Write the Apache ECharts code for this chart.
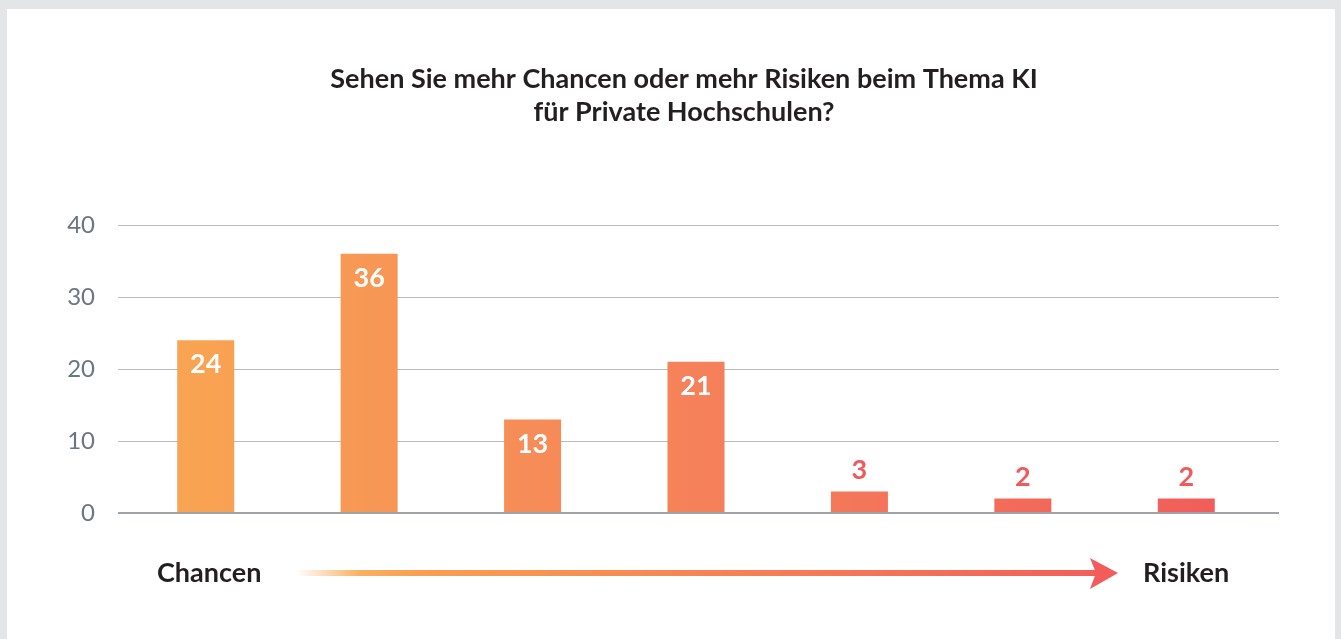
<!DOCTYPE html>
<html>
<head>
<meta charset="utf-8">
<script src="https://cdn.jsdelivr.net/npm/echarts@6/dist/echarts.min.js"></script>
<style>
html,body{margin:0;padding:0;background:#e4e5e7;width:1341px;height:639px;overflow:hidden;}
#panel{position:absolute;left:7px;top:9px;width:1328px;height:640px;background:#fff;}
#chart{position:absolute;left:0;top:0;width:1341px;height:639px;}
</style>
</head>
<body>
<div id="panel"></div>
<div id="chart"></div>
<script>
const titleLines = ['Sehen Sie mehr Chancen oder mehr Risiken beim Thema KI', 'für Private Hochschulen?'];
const categories = ['1', '2', '3', '4', '5', '6', '7'];
const values = [24, 36, 13, 21, 3, 2, 2];
const yTicks = [0, 10, 20, 30, 40];
const endLabels = ['Chancen', 'Risiken'];

const FONT = 'Lato, "Open Sans", sans-serif';
const chart = echarts.init(document.getElementById('chart'), null, {renderer: 'canvas'});

const barGradient = new echarts.graphic.LinearGradient(124, 0, 1268, 0, [
  {offset: 0, color: '#f9a851'},
  {offset: 0.5, color: '#f5815a'},
  {offset: 1, color: '#f05a5a'}
], true);

const data = values.map(v => ({
  value: v,
  label: v >= 10
    ? {position: 'insideTop', distance: 11, color: '#ffffff'}
    : {position: 'top', distance: 8, color: '#f05a5a'}
}));

chart.setOption({
  animation: false,
  grid: [
    {left: 118, right: 62, top: 225, bottom: 126},
    {left: 124, right: 73, top: 225, bottom: 126}
  ],
  xAxis: [
    {type: 'category', gridIndex: 0, data: categories, show: false},
    {type: 'category', gridIndex: 1, data: categories, axisLine: {show: false}, axisTick: {show: false}, axisLabel: {show: false}}
  ],
  yAxis: [
    {
      type: 'value', gridIndex: 0, min: 0, max: 40, interval: 10,
      axisLine: {show: false}, axisTick: {show: false},
      axisLabel: {
        margin: 23, color: '#6b7682', fontSize: 24, fontFamily: FONT,
        formatter: v => yTicks.includes(v) ? String(v) : ''
      },
      splitLine: {lineStyle: {color: '#b7babf', width: 1}}
    },
    {type: 'value', gridIndex: 1, min: 0, max: 40, interval: 10, show: false, splitLine: {show: false}}
  ],
  series: [
    {
      type: 'line', xAxisIndex: 0, yAxisIndex: 0, data: [], silent: true,
      markLine: {
        symbol: 'none', silent: true, label: {show: false},
        lineStyle: {color: '#9ea3aa', width: 2, type: 'solid'},
        data: [{yAxis: 0}]
      }
    },
    {
      type: 'bar', xAxisIndex: 1, yAxisIndex: 1, data: data, barWidth: 57,
      itemStyle: {color: barGradient},
      label: {show: true, fontFamily: FONT, fontWeight: 'bold', fontSize: 27}
    }
  ],
  graphic: [
    {type: 'text', x: 684, y: 79, style: {text: titleLines[0], font: 'bold 27px ' + FONT, fill: '#231f20', textAlign: 'center', textVerticalAlign: 'middle'}},
    {type: 'text', x: 684, y: 112, style: {text: titleLines[1], font: 'bold 27px ' + FONT, fill: '#231f20', textAlign: 'center', textVerticalAlign: 'middle'}},
    {type: 'text', x: 157, y: 573, style: {text: endLabels[0], font: 'bold 27px ' + FONT, fill: '#231f20', textAlign: 'left', textVerticalAlign: 'middle'}},
    {type: 'text', x: 1143, y: 573, style: {text: endLabels[1], font: 'bold 27px ' + FONT, fill: '#231f20', textAlign: 'left', textVerticalAlign: 'middle'}},
    {type: 'rect', shape: {x: 296, y: 570, width: 800, height: 6},
      style: {fill: new echarts.graphic.LinearGradient(296, 0, 1096, 0, [
        {offset: 0, color: 'rgba(249,168,81,0)'},
        {offset: 0.08, color: 'rgba(249,168,81,0.9)'},
        {offset: 0.15, color: '#f8a050'},
        {offset: 1, color: '#f25f5a'}
      ], true)}},
    {type: 'polygon', shape: {points: [[1090, 558], [1118, 573], [1090, 589], [1096, 573]]}, style: {fill: '#f25c5a'}}
  ]
});
</script>
</body>
</html>
